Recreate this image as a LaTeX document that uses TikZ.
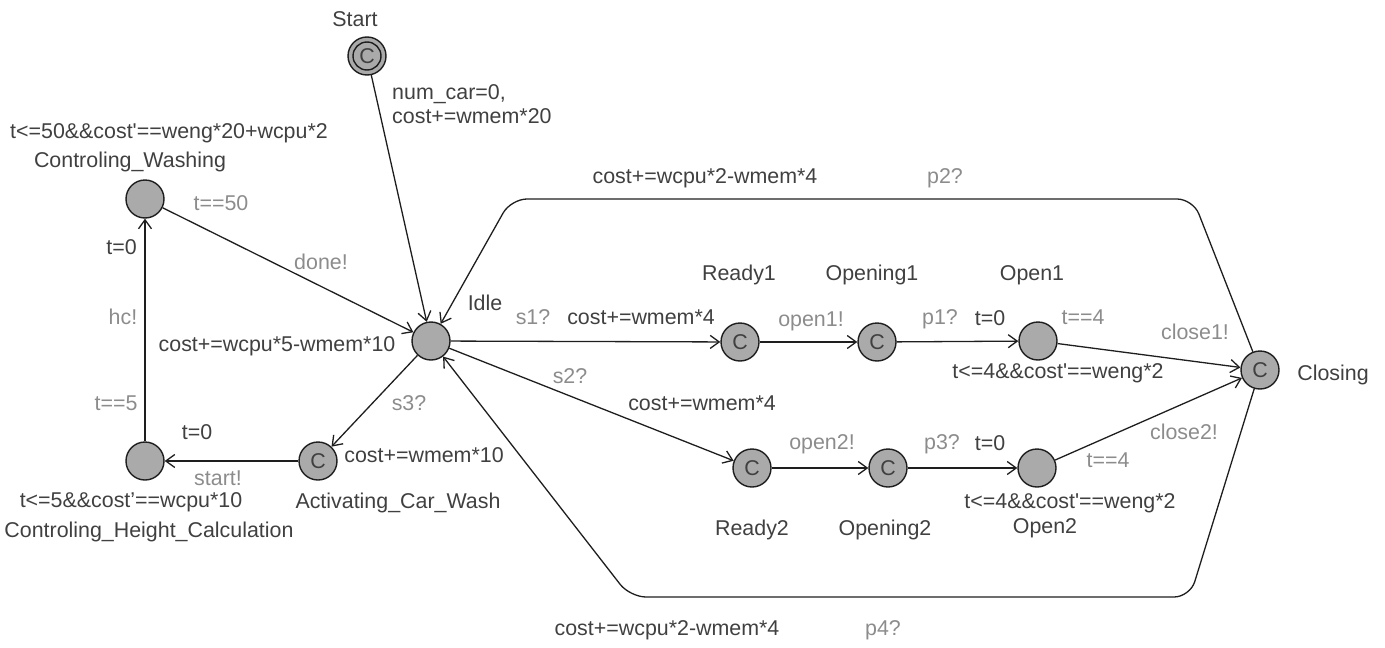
\documentclass[tikz,border=0pt]{standalone}
\usepackage{fontspec}
\newfontfamily\diafont{Liberation Sans}
\usetikzlibrary{arrows.meta}
\definecolor{locfill}{RGB}{170,170,170}
\definecolor{ink}{RGB}{30,30,30}
\definecolor{txt}{RGB}{64,64,64}
\definecolor{lbl}{RGB}{140,140,140}
\begin{document}
\begin{tikzpicture}[x=1pt,y=-1pt,
  every node/.style={font=\diafont\fontsize{21.4}{24}\selectfont},
  loc/.style={circle,draw=ink,fill=locfill,line width=1.4pt,minimum size=38pt,
    inner sep=0pt,text=txt},
  dark/.style={text=txt,inner sep=0pt},
  light/.style={text=lbl,inner sep=0pt},
  trans/.style={draw=ink,line width=1.3pt,-{Straight Barb[length=9pt,width=13pt]}},
  loop/.style={trans,rounded corners=16pt}]
\useasboundingbox (0,0) rectangle (1385,648);

% locations
\node[loc] (Start) at (367,56) {C};
\draw[ink,line width=1.4pt] (Start.center) circle (14pt);
\node[loc] (CW) at (145,199) {};
\node[loc] (Idle) at (431,341) {};
\node[loc] (CHC) at (145,461) {};
\node[loc] (ACW) at (318,461) {C};
\node[loc] (Ready1) at (740,342) {C};
\node[loc] (Opening1) at (877,342) {C};
\node[loc] (Open1) at (1038,341) {};
\node[loc] (Closing) at (1260,370) {C};
\node[loc] (Ready2) at (752,468) {C};
\node[loc] (Opening2) at (888,468) {C};
\node[loc] (Open2) at (1037,468) {};

% transitions
\draw[trans] (Start) -- (Idle);
\draw[trans] (CW) -- (Idle);
\draw[trans] (CHC) -- (CW);
\draw[trans] (ACW) -- (CHC);
\draw[trans] (Idle) -- (ACW);
\draw[trans] (Idle) -- (Ready1);
\draw[trans] (Ready1) -- (Opening1);
\draw[trans] (Opening1) -- (Open1);
\draw[trans] (Open1) -- (Closing);
\draw[trans] (Idle) -- (Ready2);
\draw[trans] (Ready2) -- (Opening2);
\draw[trans] (Opening2) -- (Open2);
\draw[trans] (Open2) -- (Closing);
\coordinate (tr) at (1193,199);
\coordinate (tl) at (511,199);
\coordinate (br) at (1190,597);
\coordinate (bl) at (630,597);
\draw[loop] (Closing) -- (tr) -- (tl) -- (Idle);
\draw[loop] (Closing) -- (br) -- (bl) -- (Idle);

% location names and invariants
\node[dark] (nStart) at (355,19) {Start};
\node[dark] (iCW) at (169,133) {t<=50\&\&cost'==weng*20+wcpu*2};
\node[dark] (nCW) at (130,162) {Controling\_Washing};
\node[dark] (nIdle) at (485,303) {Idle};
\node[dark] (iCHC) at (131,502) {t<=5\&\&cost’==wcpu*10};
\node[dark] (nCHC) at (149,532) {Controling\_Height\_Calculation};
\node[dark] (nACW) at (398,503) {Activating\_Car\_Wash};
\node[dark] (nReady1) at (739,275) {Ready1};
\node[dark] (nOpening1) at (872,275) {Opening1};
\node[dark] (nOpen1) at (1032,275) {Open1};
\node[dark] (iOpen1) at (1058,373) {t<=4\&\&cost'==weng*2};
\node[dark] (nClosing) at (1333,375) {Closing};
\node[dark] (iOpen2) at (1070,503) {t<=4\&\&cost'==weng*2};
\node[dark] (nOpen2) at (1045,528) {Open2};
\node[dark] (nReady2) at (752,530) {Ready2};
\node[dark] (nOpening2) at (885,530) {Opening2};

% transition labels
\node[dark,anchor=west,align=left] (aStart) at (392,104) {num\_car=0,\\cost+=wmem*20};
\node[light] (gCW) at (221,203) {t==50};
\node[dark,anchor=east] (aCHC) at (137,247) {t=0};
\node[light] (sCW) at (321,262) {done!};
\node[light] (sCHC) at (123,317) {hc!};
\node[dark] (aCW) at (277,346) {cost+=wcpu*5-wmem*10};
\node[light] (gCHC) at (116,403) {t==5};
\node[dark] (aACW) at (197,432) {t=0};
\node[light] (sACW) at (218,478) {start!};
\node[light] (sIdle3) at (409,403) {s3?};
\node[dark] (aIdle3) at (424,455) {cost+=wmem*10};
\node[light] (sIdle1) at (533,317) {s1?};
\node[dark] (aIdle1) at (641,317) {cost+=wmem*4};
\node[light] (sReady1) at (811,321) {open1!};
\node[light] (sOpening1) at (940,319) {p1?};
\node[dark] (aOpening1) at (990,318) {t=0};
\node[light] (gOpen1) at (1083,317) {t==4};
\node[light] (sOpen1) at (1195,332) {close1!};
\node[light] (sIdle2) at (570,376) {s2?};
\node[dark] (aIdle2) at (702,403) {cost+=wmem*4};
\node[light] (sReady2) at (822,444) {open2!};
\node[light] (sOpening2) at (942,444) {p3?};
\node[dark] (aOpening2) at (990,443) {t=0};
\node[light] (gOpen2) at (1108,460) {t==4};
\node[light] (sOpen2) at (1184,432) {close2!};
\node[dark] (aTop) at (705,178) {cost+=wcpu*2-wmem*4};
\node[light] (sTop) at (945,178) {p2?};
\node[dark] (aBot) at (667,630) {cost+=wcpu*2-wmem*4};
\node[light] (sBot) at (883,630) {p4?};
\end{tikzpicture}
\end{document}
